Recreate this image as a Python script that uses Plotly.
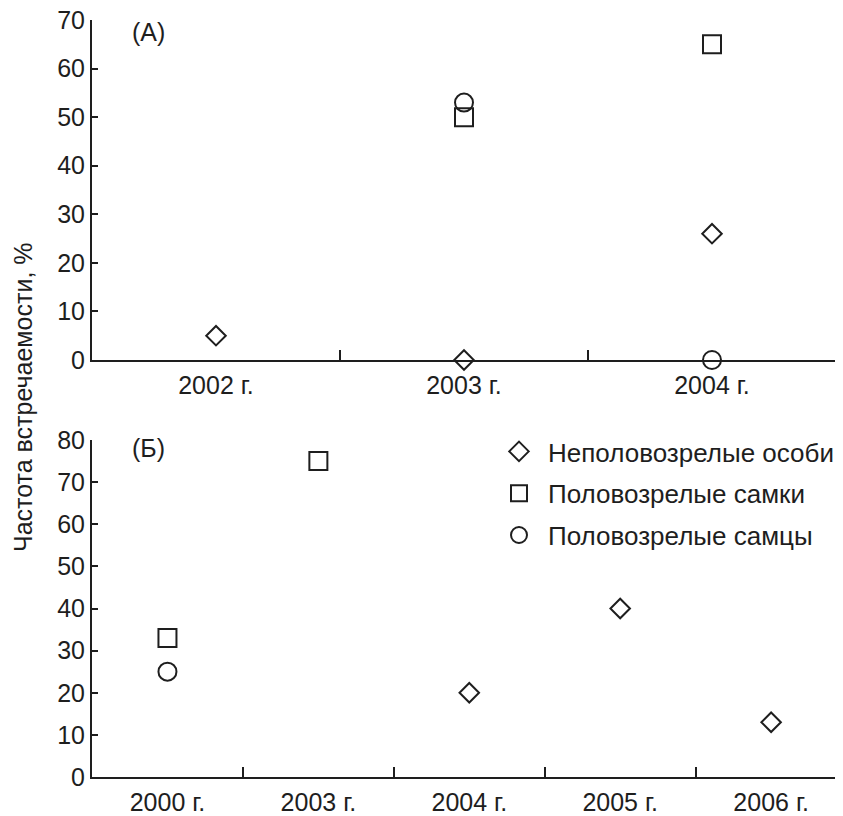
import plotly.graph_objects as go
from plotly.subplots import make_subplots

# ---- data ----
years_a = ["2002 г.", "2003 г.", "2004 г."]
years_b = ["2000 г.", "2003 г.", "2004 г.", "2005 г.", "2006 г."]

series_names = ["Неполовозрелые особи", "Половозрелые самки", "Половозрелые самцы"]

# panel (А)
immature_a = [5, 0, 26]
females_a = [None, 50, 65]
males_a = [None, 53, 0]

# panel (Б)
immature_b = [None, None, 20, 40, 13]
females_b = [33, 75, None, None, None]
males_b = [25, None, None, None, None]

yticks_a = [0, 10, 20, 30, 40, 50, 60, 70]
yticks_b = [0, 10, 20, 30, 40, 50, 60, 70, 80]

ytitle = "Частота встречаемости, %"
panel_a = "(А)"
panel_b = "(Б)"

# ---- style ----
INK = "#1e1e1e"
FONT = "Liberation Sans, Arial, sans-serif"
FS = 25
FS_LEG = 26
OFF = 8                      # browser body margin
W, H = 843 - OFF, 816 - OFF
symbols = ["diamond-open", "square-open", "circle-open"]
sizes = [15, 18, 18]

fig = make_subplots(rows=2, cols=1)

data_a = [immature_a, females_a, males_a]
data_b = [immature_b, females_b, males_b]

for i, name in enumerate(series_names):
    fig.add_trace(go.Scatter(
        x=years_a, y=data_a[i], mode="markers", name=name,
        legendgroup=name, showlegend=False, cliponaxis=False,
        marker=dict(symbol=symbols[i], size=sizes[i], color=INK,
                    line=dict(color=INK, width=2)),
    ), row=1, col=1)
for i, name in enumerate(series_names):
    fig.add_trace(go.Scatter(
        x=years_b, y=data_b[i], mode="markers", name=name,
        legendgroup=name, showlegend=True, cliponaxis=False,
        marker=dict(symbol=symbols[i], size=sizes[i], color=INK,
                    line=dict(color=INK, width=2)),
    ), row=2, col=1)

# reference pixel geometry -> figure paper coords
L, R = 92 - OFF, 836 - OFF
def py(p):
    return 1 - (p - OFF) / H
def px(p):
    return (p - OFF - L) / (R - L)

xcommon = dict(type="category", tickson="boundaries", ticks="inside", ticklen=10,
               tickwidth=2, tickcolor=INK, showline=True, linecolor=INK, linewidth=2,
               showgrid=False, zeroline=False, automargin=False,
               ticklabelstandoff=2, ticklabeloverflow="allow",
               tickfont=dict(family=FONT, size=FS, color=INK))
ycommon = dict(ticks="inside", ticklen=6, tickwidth=2, tickcolor=INK, showline=True,
               linecolor=INK, linewidth=2, showgrid=False, zeroline=False,
               automargin=False, ticklabeloverflow="allow",
               tickfont=dict(family=FONT, size=FS, color=INK))

fig.update_xaxes(**xcommon, categoryorder="array", categoryarray=years_a,
                 range=[-0.5, 2.5], domain=[0, 1], row=1, col=1)
fig.update_xaxes(**xcommon, categoryorder="array", categoryarray=years_b,
                 range=[-0.5, 4.43], domain=[0, 1], row=2, col=1)
fig.update_yaxes(**ycommon, range=[0, 70], tickvals=yticks_a,
                 domain=[py(360), py(20)], row=1, col=1)
fig.update_yaxes(**ycommon, range=[0, 80], tickvals=yticks_b,
                 domain=[py(777), py(440)], row=2, col=1)

fig.add_annotation(text=ytitle, textangle=-90, xref="paper", yref="paper",
                   x=px(23), y=py(397), xanchor="center", yanchor="middle",
                   showarrow=False, font=dict(family=FONT, size=FS, color=INK))
fig.add_annotation(text=panel_a, xref="paper", yref="paper", x=px(148), y=py(32),
                   xanchor="center", yanchor="middle",
                   showarrow=False, font=dict(family=FONT, size=FS, color=INK))
fig.add_annotation(text=panel_b, xref="paper", yref="paper", x=px(148), y=py(448),
                   xanchor="center", yanchor="middle",
                   showarrow=False, font=dict(family=FONT, size=FS, color=INK))

fig.update_layout(
    width=W, height=H,
    margin=dict(l=L, r=W - R, t=0, b=0, autoexpand=False),
    paper_bgcolor="white", plot_bgcolor="white",
    font=dict(family=FONT, size=FS, color=INK),
    legend=dict(x=px(490), y=py(428), xanchor="left", yanchor="top",
                itemwidth=48, tracegroupgap=5, bgcolor="rgba(0,0,0,0)",
                font=dict(family=FONT, size=FS_LEG, color=INK)),
)

fig.write_html("out.html")
